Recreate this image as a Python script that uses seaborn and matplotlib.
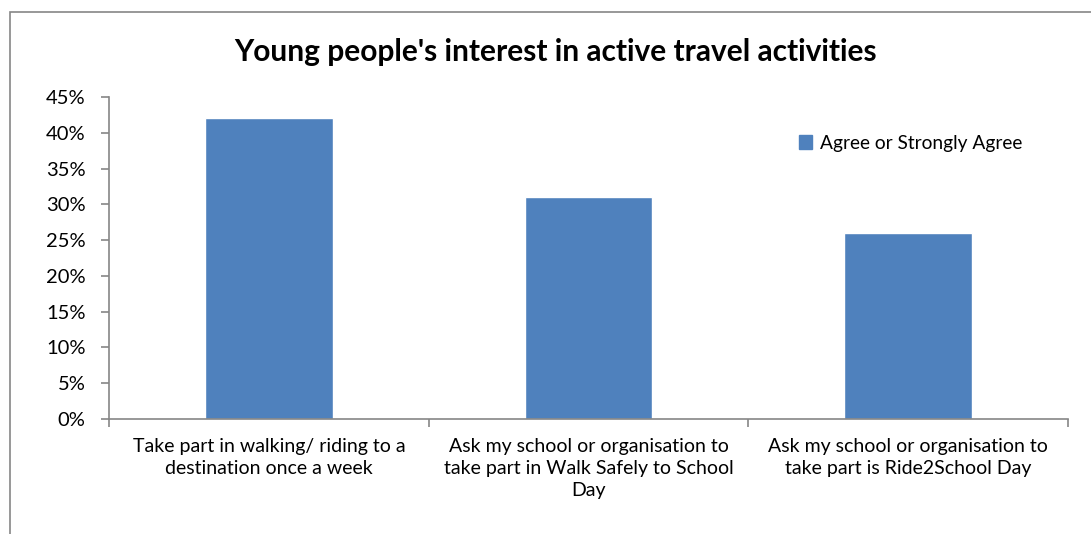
import matplotlib
matplotlib.use("Agg")
import matplotlib.pyplot as plt
import matplotlib.patches as mpatches
from matplotlib.ticker import PercentFormatter, FixedLocator
import seaborn as sns
import pandas as pd

# Survey responses
categories = [
    "Take part in walking/ riding to a\ndestination once a week",
    "Ask my school or organisation to\ntake part in Walk Safely to School\nDay",
    "Ask my school or organisation to\ntake part is Ride2School Day",
]
agree_values = [42, 31, 26]
series_name = "Agree or Strongly Agree"
title_text = "Young people's interest in active travel activities"
y_ticks = list(range(0, 50, 5))

bar_color = "#4F81BD"
axis_color = "#868686"

sns.set_theme(style="white")
plt.rcParams["font.family"] = ["Lato", "DejaVu Sans"]
plt.rcParams["text.color"] = "black"
plt.rcParams["xtick.color"] = "black"
plt.rcParams["ytick.color"] = "black"

df = pd.DataFrame({"category": categories, "value": agree_values})

fig = plt.figure(figsize=(10.91, 5.34), dpi=100)
# outer chart frame
fig.patches.append(mpatches.Rectangle((10 / 1091, -0.1), 1.2, (534 - 12) / 534 + 0.1,
                                      transform=fig.transFigure, fill=False,
                                      edgecolor=axis_color, linewidth=1.2))
ax = fig.add_axes([109 / 1091, 1 - 419 / 534, (1068 - 109) / 1091, (419 - 97) / 534])

sns.barplot(data=df, x="category", y="value", color=bar_color, width=0.4,
            saturation=1, ax=ax, label=series_name)

ax.set_ylim(0, 45)
ax.set_xlim(-0.5, 2.5)
ax.set_yticks(y_ticks)
ax.yaxis.set_major_formatter(PercentFormatter(decimals=0))
ax.set_xlabel("")
ax.set_ylabel("")

for side in ["top", "right"]:
    ax.spines[side].set_visible(False)
for side in ["left", "bottom"]:
    ax.spines[side].set_color(axis_color)
    ax.spines[side].set_linewidth(1.2)

# category labels centred under bars, ticks placed between categories
ax.tick_params(axis="x", which="major", bottom=True, length=0, pad=14,
               labelsize=14, labelcolor="black")
ax.xaxis.set_minor_locator(FixedLocator([-0.5, 0.5, 1.5, 2.5]))
ax.tick_params(axis="x", which="minor", bottom=True, length=6, width=1.2,
               color=axis_color, direction="out")
ax.tick_params(axis="y", which="major", left=True, length=6, width=1.2,
               color=axis_color, direction="out", labelsize=14.5, pad=11,
               labelcolor="black")
for lbl in ax.get_xticklabels():
    lbl.set_multialignment("center")
    lbl.set_linespacing(1.35)

fig.text(556 / 1091, 1 - 52 / 534, title_text, ha="center", va="center",
         fontsize=21.5, fontweight="bold", color="black")

handles = [mpatches.Patch(color=bar_color, label=series_name)]
fig.legend(handles=handles, loc="center left", bbox_to_anchor=(791 / 1091, 1 - 143 / 534),
           frameon=False, fontsize=13.8, handlelength=0.7, handleheight=0.7,
           handletextpad=0.4, borderaxespad=0, labelcolor="black")
if ax.get_legend() is not None:
    ax.get_legend().remove()

fig.savefig("out.png", dpi=100)
